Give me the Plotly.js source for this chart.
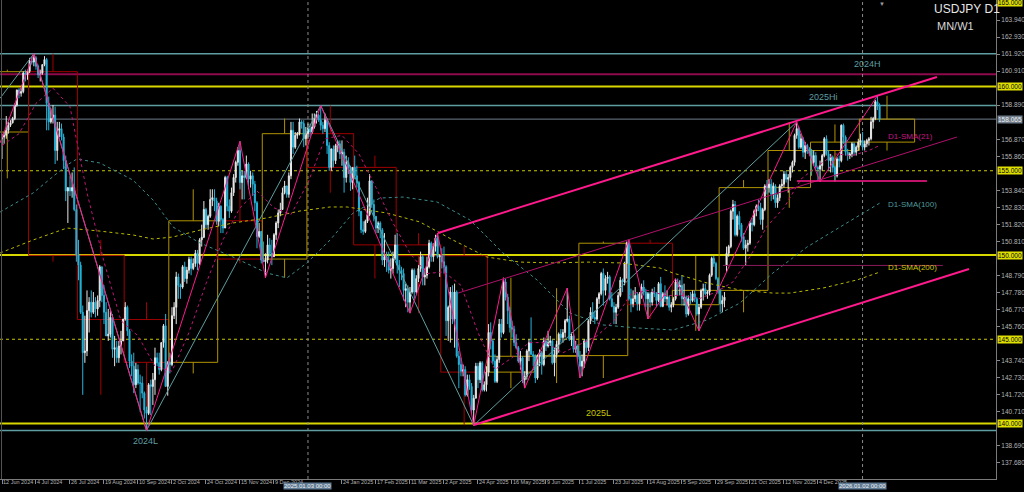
<!DOCTYPE html>
<html><head><meta charset="utf-8">
<script src="https://cdn.plot.ly/plotly-3.0.1.min.js"></script>
<style>html,body{margin:0;padding:0;background:#000;}#chart{width:1024px;height:492px;}</style>
</head><body><div id="chart"></div>
<script>
// ---- Daily OHLC (USDJPY D1), bar index 0 = 12 Jun 2024 ----
const open = [
156.9,157.0,157.1,157.4,157.7,157.85,158.1,158.9,159.8,159.6,
159.7,160.8,160.7,160.9,161.5,161.45,161.7,161.2,160.7,160.8,
161.3,161.6,159.0,157.9,158.1,158.3,156.2,157.4,157.5,157.0,
155.6,153.8,154.0,153.8,154.0,152.7,150.0,149.4,146.6,144.2,
144.3,146.7,147.2,146.6,147.2,146.8,147.3,149.3,147.6,146.6,
145.2,145.3,146.3,144.4,144.5,143.9,144.6,144.9,146.2,146.9,
145.5,143.7,143.4,142.3,143.2,142.4,142.4,141.8,140.8,140.6,
142.3,142.2,142.6,143.9,143.6,143.2,144.8,145.8,142.2,143.6,
143.5,146.4,146.9,148.7,148.2,148.1,149.3,148.6,149.1,149.75,
149.2,149.5,150.1,149.5,150.9,151.05,152.7,151.8,152.3,153.3,
153.4,153.2,152.0,152.9,152.1,151.6,154.6,152.9,152.6,153.7,
154.6,155.5,156.2,154.3,154.7,154.6,155.4,154.5,154.7,154.2,
153.1,151.1,151.4,149.7,149.6,149.7,150.6,150.1,149.9,151.2,
151.9,152.5,152.7,153.7,154.1,153.6,154.7,157.4,156.4,157.1,
157.2,157.9,157.8,156.9,157.2,157.5,157.3,157.6,158.1,158.3,
158.0,157.7,157.5,158.0,156.5,155.2,156.3,155.6,156.5,156.6,
156.0,156.1,154.6,155.5,155.2,154.3,155.2,154.7,154.3,152.6,
151.5,151.4,152.0,152.4,154.4,153.0,152.3,151.6,151.9,151.5,
149.7,149.9,149.7,149.1,149.2,149.8,150.6,149.4,149.1,148.9,
147.9,148.0,147.2,147.8,149.1,147.8,148.6,149.2,149.9,148.7,
148.8,149.3,150.7,149.9,150.5,151.0,149.9,149.95,149.6,149.3,
146.1,146.9,147.8,146.2,147.8,144.0,143.5,143.1,143.2,141.7,
142.6,142.2,140.8,141.5,143.4,142.6,143.6,142.0,142.3,143.05,
145.4,144.9,143.7,142.5,143.8,145.9,145.4,148.4,147.5,146.7,
145.7,145.6,144.8,144.5,143.7,143.9,142.6,142.8,144.3,144.8,
144.1,144.0,142.7,144.0,144.2,143.5,144.9,144.6,144.8,144.9,
143.6,144.1,144.7,145.3,145.1,145.4,146.1,146.2,145.0,145.2,
144.4,144.6,144.0,143.4,143.7,144.9,144.5,146.1,146.6,146.3,
146.2,147.4,147.7,148.9,147.9,148.6,148.7,147.4,146.95,146.6,
146.9,147.6,148.5,148.4,149.5,150.7,147.4,147.1,147.4,147.6,
147.1,147.7,148.1,147.8,147.4,147.7,147.2,147.8,147.7,147.3,
148.3,146.95,147.7,147.4,147.5,146.9,147.05,147.4,148.4,148.1,
148.2,147.4,147.5,146.5,147.4,147.3,147.7,147.4,146.5,146.9,
147.9,148.0,147.7,147.8,148.8,149.8,149.5,148.6,147.9,147.1,
147.3,149.4,150.1,150.5,152.6,153.0,151.2,152.3,151.8,151.1,
150.4,150.6,150.7,151.9,151.8,152.6,152.9,152.8,152.1,152.7,
154.1,154.0,154.2,153.6,154.1,153.1,153.4,154.1,154.2,154.8,
154.5,154.6,155.2,155.5,157.1,157.5,156.4,156.9,156.1,156.5,
156.3,156.2,155.5,155.9,155.2,155.1,155.3,155.9,156.9,156.0,
155.6,155.8,155.2,154.7,155.7,155.6,157.7,157.0,156.1,155.9,
156.0,156.6,156.1,156.4,156.7,156.8,156.4,156.6,156.8,156.9,
157.9,158.1,159.1,158.9];
const high = [
157.2,157.3,158.25,157.9,158.0,158.2,159.0,159.8,159.9,159.9,
160.9,161.0,161.0,161.7,161.75,161.95,161.8,161.3,161.0,161.3,
161.8,161.7,159.4,158.7,158.9,158.8,157.9,157.9,157.8,157.2,
155.9,154.0,154.7,154.9,155.2,153.0,150.9,149.6,147.0,146.4,
147.9,147.5,147.9,147.8,147.5,147.6,149.4,149.3,148.2,147.2,
146.8,146.7,146.5,145.2,144.9,144.9,145.5,146.2,147.2,147.0,
145.6,144.1,144.2,143.6,143.5,142.9,142.8,141.9,141.0,142.4,
142.6,143.0,144.5,144.2,144.2,144.8,145.9,146.5,143.7,144.2,
146.9,147.2,149.0,148.9,148.3,149.4,149.6,149.3,149.9,149.9,
149.8,150.3,150.3,151.0,151.8,153.2,152.8,152.4,153.9,153.9,
153.9,153.4,153.1,152.95,152.2,154.7,154.7,153.3,154.0,154.8,
155.6,156.4,156.75,155.0,155.0,155.9,155.5,155.0,154.9,154.4,
153.2,151.9,151.4,150.8,150.1,151.2,151.0,150.9,151.3,152.0,
152.7,153.1,154.0,154.4,154.1,154.9,157.9,157.9,157.3,157.3,
158.1,158.0,158.0,157.6,157.8,157.8,158.4,158.4,158.55,158.4,
158.87,157.9,158.4,158.1,156.7,156.3,156.5,156.6,156.8,156.8,
156.8,156.3,155.9,155.8,155.3,155.2,155.9,155.3,154.4,152.6,
152.0,152.1,153.4,154.8,154.4,153.3,152.3,152.0,152.0,151.6,
151.3,150.2,150.2,149.8,150.2,151.2,151.3,149.7,149.3,149.2,
148.3,148.2,148.1,149.2,149.2,148.8,149.4,150.2,150.0,149.2,
149.9,150.9,150.8,150.7,151.2,151.3,150.0,150.4,150.5,149.4,
147.0,148.1,148.2,148.3,147.9,144.3,143.9,143.5,143.4,142.9,
142.9,142.4,141.7,143.6,143.6,143.7,143.7,142.5,143.4,145.9,
146.0,145.0,144.1,144.0,146.2,146.2,148.65,148.6,147.7,146.9,
146.1,145.8,145.3,144.6,144.3,144.0,143.1,144.4,145.0,146.3,
144.3,144.1,144.1,144.4,144.3,145.1,145.0,145.5,145.2,145.0,
144.5,144.9,145.4,145.6,145.6,146.2,148.03,146.4,145.4,145.3,
144.9,144.7,144.3,144.1,145.0,145.0,146.2,146.9,147.2,146.7,
147.5,147.8,149.0,149.2,148.8,149.0,148.8,147.8,147.2,147.1,
147.8,148.7,148.6,149.6,150.8,150.91,148.0,147.9,148.1,147.8,
147.8,148.3,148.5,148.0,147.8,147.8,148.0,148.1,147.8,148.4,
148.7,147.8,148.2,147.9,147.6,147.2,147.5,148.6,148.6,148.5,
148.8,148.3,147.6,147.6,147.8,147.9,147.9,147.5,147.1,148.0,
148.3,148.3,147.9,148.9,149.9,149.95,149.6,148.7,148.0,147.6,
147.8,150.5,150.6,152.7,153.27,153.2,152.4,152.6,151.9,151.3,
150.9,150.9,152.0,152.2,152.7,153.0,153.3,153.1,152.8,154.2,
154.45,154.5,154.5,154.3,154.2,153.6,154.2,154.5,155.0,155.0,
154.8,155.3,155.6,157.2,157.89,157.6,157.2,157.0,156.7,156.6,
156.4,156.3,156.2,156.1,155.3,155.6,156.0,157.0,157.1,156.2,
156.0,155.9,155.3,155.8,155.9,157.75,157.8,157.1,156.3,156.1,
156.7,156.7,156.5,156.9,157.2,157.3,156.8,156.9,157.0,158.2,
158.2,159.2,159.45,159.0];
const low = [
155.7,156.6,156.9,157.2,157.6,157.8,158.0,158.8,159.3,159.4,
159.6,160.3,160.4,160.8,161.3,161.2,161.0,160.5,160.3,160.7,
161.2,157.4,157.4,157.8,157.8,155.4,155.6,157.0,156.8,155.1,
153.2,151.9,153.5,153.4,152.6,149.6,148.5,146.5,141.7,143.6,
144.0,145.4,146.3,146.5,146.3,146.4,146.9,147.2,145.9,145.2,
144.9,145.1,143.9,143.4,143.6,143.6,144.1,144.9,146.1,145.2,
143.3,142.8,141.8,142.1,142.3,140.7,141.5,140.3,139.58,140.5,
140.5,141.1,141.7,143.4,142.9,143.1,144.5,142.2,141.65,142.97,
143.4,146.2,145.9,147.4,147.4,148.0,148.4,148.3,148.9,148.8,
149.1,149.3,149.1,149.4,150.5,151.0,151.6,151.5,152.2,152.9,
152.6,151.8,151.7,151.3,151.3,151.6,152.6,152.2,152.5,153.5,
154.3,155.3,153.9,153.3,153.3,154.5,153.9,154.0,153.5,152.6,
150.4,151.0,149.5,149.6,148.65,149.5,149.9,149.4,149.9,150.9,
151.6,152.3,152.7,153.6,153.4,153.4,154.5,156.0,156.3,156.9,
157.1,157.5,156.4,156.5,156.9,157.0,157.2,157.5,157.8,157.9,
157.4,157.2,157.3,156.0,155.0,155.0,155.2,155.4,156.1,155.7,
155.3,153.7,154.3,154.8,153.8,153.9,154.5,154.0,152.3,151.3,
151.2,151.3,151.9,152.3,152.8,152.0,151.3,151.3,151.0,149.4,
149.3,149.0,148.9,148.6,148.9,149.7,148.9,148.1,148.5,147.3,
146.9,146.6,146.55,147.7,147.4,147.7,148.4,149.0,148.2,148.2,
148.6,149.2,149.6,149.6,150.2,149.8,148.7,149.2,148.9,145.2,
144.9,144.8,145.9,144.5,143.9,142.1,142.8,142.8,141.6,141.6,
142.0,140.6,139.89,141.5,142.1,142.4,141.9,141.9,141.9,142.8,
144.4,143.5,142.4,142.4,143.6,145.1,145.3,147.3,145.9,145.4,
145.1,144.6,144.4,143.6,143.2,142.4,142.1,142.6,143.7,144.1,
143.4,142.4,142.6,143.4,142.9,143.4,144.3,144.5,144.6,143.5,
142.8,143.9,144.2,144.8,144.8,145.1,146.0,144.9,144.6,144.2,
144.2,143.8,142.7,142.8,143.3,144.2,144.3,145.9,146.2,145.9,
146.1,147.1,147.6,147.0,147.6,148.3,147.3,146.9,145.9,145.9,
146.8,147.5,147.8,148.2,148.6,147.3,146.6,146.9,147.2,146.7,
146.7,147.4,147.6,146.9,146.2,146.9,147.0,147.5,146.9,147.2,
146.9,146.9,147.2,147.0,146.7,146.6,146.9,147.3,147.6,147.6,
147.0,147.0,146.3,146.4,147.1,147.2,147.2,146.4,145.5,146.8,
147.3,147.6,147.4,147.6,148.7,149.3,148.5,147.7,146.6,146.6,
146.9,149.0,149.9,150.4,152.1,151.1,151.1,151.5,150.8,150.3,
149.4,150.2,150.6,151.4,151.7,152.3,152.6,151.8,151.5,152.6,
153.6,153.7,153.2,153.3,152.8,152.8,153.2,153.9,154.0,154.3,
153.7,154.4,154.9,155.3,156.9,156.3,156.3,155.8,155.7,156.0,
155.9,154.7,155.3,155.0,154.4,154.35,155.0,155.8,155.9,155.0,
154.9,154.9,154.4,154.6,155.2,155.5,156.6,155.9,155.6,155.7,
155.8,155.9,155.9,156.2,156.5,156.2,156.2,156.4,156.5,156.8,
157.5,158.0,158.6,157.9];
const close = [
157.0,157.1,157.4,157.7,157.85,158.1,158.9,159.8,159.6,159.7,
160.8,160.7,160.9,161.5,161.45,161.7,161.2,160.7,160.8,161.3,
161.6,159.0,157.9,158.1,158.3,156.2,157.4,157.5,157.0,155.6,
153.8,154.0,153.8,154.0,152.7,150.0,149.4,146.6,144.2,144.3,
146.7,147.2,146.6,147.2,146.8,147.3,149.3,147.6,146.6,145.2,
145.3,146.3,144.4,144.5,143.9,144.6,144.9,146.2,146.9,145.5,
143.7,143.4,142.3,143.2,142.4,142.4,141.8,140.8,140.6,142.3,
142.2,142.6,143.9,143.6,143.2,144.8,145.8,142.2,143.6,143.5,
146.4,146.9,148.7,148.2,148.1,149.3,148.6,149.1,149.75,149.2,
149.5,150.1,149.5,150.9,151.05,152.7,151.8,152.3,153.3,153.4,
153.2,152.0,152.9,152.1,151.6,154.6,152.9,152.6,153.7,154.6,
155.5,156.2,154.3,154.7,154.6,155.4,154.5,154.7,154.2,153.1,
151.1,151.4,149.7,149.6,149.7,150.6,150.1,149.9,151.2,151.9,
152.5,152.7,153.7,154.1,153.6,154.7,157.4,156.4,157.1,157.2,
157.9,157.8,156.9,157.2,157.5,157.3,157.6,158.1,158.3,158.0,
157.7,157.5,158.0,156.5,155.2,156.3,155.6,156.5,156.6,156.0,
156.1,154.6,155.5,155.2,154.3,155.2,154.7,154.3,152.6,151.5,
151.4,152.0,152.4,154.4,153.0,152.3,151.6,151.9,151.5,149.7,
149.9,149.7,149.1,149.2,149.8,150.6,149.4,149.1,148.9,147.9,
148.0,147.2,147.8,149.1,147.8,148.6,149.2,149.9,148.7,148.8,
149.3,150.7,149.9,150.5,151.0,149.9,149.95,149.6,149.3,146.1,
146.9,147.8,146.2,147.8,144.0,143.5,143.1,143.2,141.7,142.6,
142.2,140.8,141.5,143.4,142.6,143.6,142.0,142.3,143.05,145.4,
144.9,143.7,142.5,143.8,145.9,145.4,148.4,147.5,146.7,145.7,
145.6,144.8,144.5,143.7,143.9,142.6,142.8,144.3,144.8,144.1,
144.0,142.7,144.0,144.2,143.5,144.9,144.6,144.8,144.9,143.6,
144.1,144.7,145.3,145.1,145.4,146.1,146.2,145.0,145.2,144.4,
144.6,144.0,143.4,143.7,144.9,144.5,146.1,146.6,146.3,146.2,
147.4,147.7,148.9,147.9,148.6,148.7,147.4,146.95,146.6,146.9,
147.6,148.5,148.4,149.5,150.7,147.4,147.1,147.4,147.6,147.1,
147.7,148.1,147.8,147.4,147.7,147.2,147.8,147.7,147.3,148.3,
146.95,147.7,147.4,147.5,146.9,147.05,147.4,148.4,148.1,148.2,
147.4,147.5,146.5,147.4,147.3,147.7,147.4,146.5,146.9,147.9,
148.0,147.7,147.8,148.8,149.8,149.5,148.6,147.9,147.1,147.3,
147.5,150.1,150.5,152.6,153.0,151.2,152.3,151.8,151.1,150.4,
150.6,150.7,151.9,151.8,152.6,152.9,152.8,152.1,152.7,154.1,
154.0,154.2,153.6,154.1,153.1,153.4,154.1,154.2,154.8,154.5,
154.6,155.2,155.5,157.1,157.5,156.4,156.9,156.1,156.5,156.3,
156.2,155.5,155.9,155.2,155.1,155.3,155.9,156.9,156.0,155.6,
155.8,155.2,154.7,155.7,155.6,157.7,157.0,156.1,155.9,156.0,
156.6,156.1,156.4,156.7,156.8,156.4,156.6,156.8,156.9,157.9,
158.1,159.1,158.9,158.065];

// ---- Axis labels ----
const xTickIdx = [0,16,32,48,64,80,96,112,128,160,176,192,208,224,240,256,272,288,304,320,336,352,368,384];
const xTickText = ['12 Jun 2024','4 Jul 2024','26 Jul 2024','19 Aug 2024','10 Sep 2024','2 Oct 2024','24 Oct 2024','15 Nov 2024','9 Dec 2024',
  '24 Jan 2025','17 Feb 2025','11 Mar 2025','2 Apr 2025','24 Apr 2025','16 May 2025','9 Jun 2025','1 Jul 2025','23 Jul 2025','14 Aug 2025',
  '5 Sep 2025','29 Sep 2025','21 Oct 2025','12 Nov 2025','4 Dec 2025'];
// price-scale ticks that are not hidden under the level boxes
const yTickVals = [163.94,162.93,161.92,160.91,158.89,156.87,155.86,153.84,152.83,151.82,150.81,148.79,147.78,146.77,145.76,143.74,142.73,141.72,140.71,138.69,137.68];

// ---- Moving averages (read at sample bars) ----
const sma21Idx = [0,8,16,24,32,40,48,56,64,72,80,88,96,104,112,120,128,136,144,152,160,168,176,184,192,200,208,216,224,232,240,248,256,264,272,280,288,296,304,312,320,328,336,344,352,360,368,376,384,392,400,408,413];
const sma21Val = [156.5,157.2,159.0,159.9,158.8,153.7,149.6,146.1,145.2,143.4,143.1,145.4,148.3,150.9,152.8,153.8,152.8,152.4,154.3,156.9,157.1,156.0,154.0,151.9,150.1,148.9,149.0,148.2,145.4,143.2,143.9,144.8,144.8,144.2,144.7,145.2,146.1,147.7,147.9,147.6,147.6,147.4,147.8,148.4,149.9,151.7,152.8,154.5,155.3,156.0,155.9,156.2,156.5];
const sma100Idx = [-0.9,14.6,30.6,35.3,46.1,61.6,71.1,80.5,93.2,108.7,124.7,134.1,143.5,154.4,165.2,177.9,188.7,204.7,220.2,235.8,251.8,267.3,282.8,298.8,315.8,331.8,347.3,362.8,378.8,394.4,413.2];
const sma100Val = [152.55,153.68,155.34,155.70,155.46,154.45,153.26,151.66,150.71,149.88,148.93,148.64,149.53,150.89,152.49,153.38,153.44,153.15,152.08,150.12,148.52,146.56,145.85,145.67,145.55,146.14,147.15,148.93,150.47,151.66,153.09];
const sma200Idx = [-0.9,14.6,30.6,46.1,61.6,71.1,80.5,93.2,108.7,124.7,140.2,154.4,162.4,181.2,196.7,212.2,228.2,243.8,259.3,275.3,290.8,309.6,315.8,331.8,347.3,362.8,370.8,386.4,402.4,413.2];
const sma200Val = [150.12,150.89,151.60,151.42,151.19,150.95,151.07,151.48,151.90,152.20,152.61,152.85,152.85,152.49,151.96,150.89,149.88,149.58,149.53,149.58,149.53,149.23,148.93,148.34,147.92,147.74,147.74,148.04,148.52,148.99];

// ---- Swing lines ----
const pinkZigIdx = [-0.94,15,68,112,124,150,192,205,222,236,246,266,272,295,304,317,328,374,385,412];
const pinkZigVal = [156.65,161.95,139.58,156.75,148.65,158.87,146.55,151.3,139.89,148.65,142.1,148.03,142.7,150.91,146.2,148.6,145.5,157.89,154.35,159.45];
const tealZigIdx = [-0.94,15,68,150,222,374];
const tealZigVal = [159.3,161.95,139.58,158.87,139.89,157.89];
const chanUpperIdx = [205.2,440.0], chanUpperVal = [151.31,160.56];
const chanLowerIdx = [222.1,455.1], chanLowerVal = [139.91,149.17];
const chanMidIdx = [214.6,449.4],  chanMidVal = [147.74,157.00];
const supportIdx = [374.1,435.3],  supportVal = [154.39,154.39];
const sma200MarkIdx = [339.3,442.8], sma200MarkVal = [149.38,149.38];

// ---- Horizontal levels ----
const levelTeal = [161.95,158.87,139.58];
const levelCrimson = [160.72];
const levelYellowSolid = [160.0,150.0,140.0];
const levelYellowDot = [155.0,145.0];
const bidPrice = 158.065;
const axisYellowLabels = [165.0,160.0,155.0,150.0,145.0,140.0];

// ---- Monthly candles (MN) ----
const mStart = [-7,13,36,58,79,102,123,144,166,186,207,229,251,272,295,316,338,361,381,404];
const mEnd   = [12,35,57,78,101,122,143,165,185,206,228,250,271,294,315,337,360,380,403,429];
const mOpen  = [157.3,160.88,149.98,146.17,143.63,152.03,149.76,157.2,155.2,150.6,149.96,143.05,143.99,144.03,150.7,147.05,147.9,154.0,156.2,156.7];
const mHigh  = [161.0,161.95,150.9,147.2,153.9,156.75,158.1,158.87,155.9,151.3,150.5,148.65,148.03,150.8,150.91,149.95,154.45,157.89,157.75,159.45];
const mLow   = [154.55,149.6,141.7,139.58,142.97,149.5,148.65,153.7,148.6,146.55,139.89,142.1,142.4,142.7,146.2,145.5,146.6,152.8,154.35,156.2];
const mClose = [160.88,149.98,146.17,143.63,152.03,149.76,157.2,155.2,150.6,149.96,143.05,143.99,144.03,150.7,147.05,147.9,154.0,156.2,156.7,158.065];

// ---- Period separators ----
const sepIdx = [144,405];
const sepText = ['2025.01.03 00:00','2026.01.02 00:00'];

const FONT = 'Liberation Sans, Arial, sans-serif';
const YEL = '#d8d800', TEAL = '#5f9ea0', PINK = '#ff1a8c';
const xs = close.map((_, i) => i);

const traces = [];
function line(x, y, color, width, dash) {
  traces.push({type:'scatter', mode:'lines', x:x, y:y, line:{color:color, width:width, dash:dash||'solid'}, hoverinfo:'skip', showlegend:false});
}
line(sma200Idx, sma200Val, '#b8b800', 1, 'dot');
line(sma100Idx, sma100Val, '#3d8c8c', 1, 'dot');
line(sma21Idx, sma21Val, '#c0157a', 1, 'dot');
traces.push({type:'candlestick', x:xs, open:open, high:high, low:low, close:close,
  increasing:{line:{color:'#e8e8e8', width:1}, fillcolor:'#e8e8e8'},
  decreasing:{line:{color:'#26b3d9', width:1}, fillcolor:'#26b3d9'},
  whiskerwidth:0, hoverinfo:'skip', showlegend:false});
line(tealZigIdx, tealZigVal, TEAL, 1);
line(pinkZigIdx, pinkZigVal, PINK, 1);
line(chanUpperIdx, chanUpperVal, PINK, 2);
line(chanLowerIdx, chanLowerVal, PINK, 2);
line(chanMidIdx, chanMidVal, '#b0106a', 1);
line(supportIdx, supportVal, PINK, 1.5);
line(sma200MarkIdx, sma200MarkVal, '#8b1a5a', 1);

const shapes = [];
function hline(v, color, width, dash) {
  shapes.push({type:'line', xref:'paper', x0:0, x1:1, yref:'y', y0:v, y1:v, line:{color:color, width:width, dash:dash||'solid'}, layer:'below'});
}
levelTeal.forEach(v => hline(v, TEAL, 1.5));
levelCrimson.forEach(v => hline(v, '#8e0a4c', 2));
levelYellowSolid.forEach(v => hline(v, YEL, 2));
levelYellowDot.forEach(v => hline(v, '#c8c800', 1, 'dot'));
hline(bidPrice, '#6f7d8c', 1);
for (let i = 0; i < mStart.length; i++) {
  const up = mClose[i] >= mOpen[i];
  const c = up ? '#b09200' : '#a00000';
  const x0 = mStart[i] - 0.5, x1 = mEnd[i] + 0.5, xm = (mStart[i] + mEnd[i]) / 2;
  const top = Math.max(mOpen[i], mClose[i]), bot = Math.min(mOpen[i], mClose[i]);
  shapes.push({type:'rect', xref:'x', yref:'y', x0:x0, x1:x1, y0:bot, y1:top, line:{color:c, width:1}, fillcolor:'rgba(0,0,0,0)', layer:'below'});
  shapes.push({type:'line', xref:'x', yref:'y', x0:xm, x1:xm, y0:top, y1:mHigh[i], line:{color:c, width:1}, layer:'below'});
  shapes.push({type:'line', xref:'x', yref:'y', x0:xm, x1:xm, y0:bot, y1:mLow[i], line:{color:c, width:1}, layer:'below'});
}
sepIdx.forEach(v => shapes.push({type:'line', xref:'x', yref:'paper', x0:v, x1:v, y0:0, y1:1, line:{color:'#8a8a8a', width:1, dash:'dot'}, layer:'below'}));
shapes.push({type:'line', xref:'paper', yref:'paper', x0:0.0015, x1:0.0015, y0:0, y1:1, line:{color:'#555', width:1}});

const ann = [];
function txt(x, y, t, color, size, xanchor, yanchor, extra) {
  ann.push(Object.assign({x:x, y:y, xref:'x', yref:'y', text:t, showarrow:false, font:{family:FONT, size:size, color:color}, xanchor:xanchor||'center', yanchor:yanchor||'middle'}, extra||{}));
}
txt(407.5, 161.95, '2024H', TEAL, 9, 'center', 'top', {yshift:-3});
txt(386.5, 158.87, '2025Hi', TEAL, 9, 'center', 'bottom', {yshift:2});
txt(67.5, 139.58, '2024L', TEAL, 9, 'center', 'top', {yshift:-3});
txt(280.5, 140.62, '2025L', '#c8c800', 9);
txt(416, 157.06, 'D1-SMA(21)', '#c71585', 8, 'left');
txt(416, 152.97, 'D1-SMA(100)', '#4f9a9a', 8, 'left');
txt(416, 149.23, 'D1-SMA(200)', '#c8c800', 8, 'left');
axisYellowLabels.forEach(v => ann.push({xref:'paper', x:1, xanchor:'left', xshift:1, yref:'y', y:v, text:v.toFixed(3), showarrow:false, bgcolor:'#e0e000', borderpad:0, font:{family:FONT, size:6.5, color:'#000'}}));
ann.push({xref:'paper', x:1, xanchor:'left', xshift:1, yref:'y', y:bidPrice, text:bidPrice.toFixed(3), showarrow:false, bgcolor:'#6f7d8c', borderpad:0, font:{family:FONT, size:6.5, color:'#f0f0f0'}});
sepIdx.forEach((v, i) => ann.push({xref:'x', x:v, yref:'paper', y:0, yanchor:'top', yshift:-3, text:sepText[i], showarrow:false, bgcolor:'#5f7a94', borderpad:0, font:{family:FONT, size:6, color:'#f0f0f0'}}));
ann.push({xref:'paper', yref:'paper', x:0.9355, y:0.981, xanchor:'left', yanchor:'middle', text:'USDJPY D1', showarrow:false, font:{family:FONT, size:12, color:'#e6e6e6'}});
ann.push({xref:'paper', yref:'paper', x:0.9385, y:0.9457, xanchor:'left', yanchor:'middle', text:'MN/W1', showarrow:false, font:{family:FONT, size:11, color:'#d8d8d8'}});
ann.push({xref:'paper', yref:'paper', x:882/996, y:1, xanchor:'center', yanchor:'top', yshift:1, text:'▼', showarrow:false, font:{family:FONT, size:6, color:'#9a9a9a'}});

const layout = {
  width:1024, height:492,
  margin:{l:0, r:28, t:0, b:13, pad:0},
  paper_bgcolor:'#000', plot_bgcolor:'#000',
  showlegend:false, hovermode:false,
  font:{family:FONT, color:'#b4b4b4', size:7},
  xaxis:{range:[-0.94, 467.8], showgrid:false, zeroline:false, rangeslider:{visible:false},
    tickmode:'array', tickvals:xTickIdx, ticktext:xTickText, ticks:'outside', ticklen:4, tickcolor:'#8a8a8a',
    tickangle:0, ticklabelposition:'outside right', ticklabelstandoff:-3, tickfont:{family:FONT, size:5.5, color:'#b4b4b4'},
    showline:true, linecolor:'#7a7a7a', linewidth:1, automargin:false, fixedrange:true},
  yaxis:{range:[136.706, 165.134], side:'right', showgrid:false, zeroline:false,
    tickmode:'array', tickvals:yTickVals, ticktext:yTickVals.map(v => v.toFixed(3)), ticks:'outside', ticklen:3, tickcolor:'#8a8a8a',
    tickfont:{family:FONT, size:6.5, color:'#b4b4b4'}, showline:true, linecolor:'#7a7a7a', linewidth:1, automargin:false, fixedrange:true},
  shapes:shapes, annotations:ann
};
Plotly.newPlot('chart', traces, layout, {staticPlot:true, displayModeBar:false});
</script></body></html>
